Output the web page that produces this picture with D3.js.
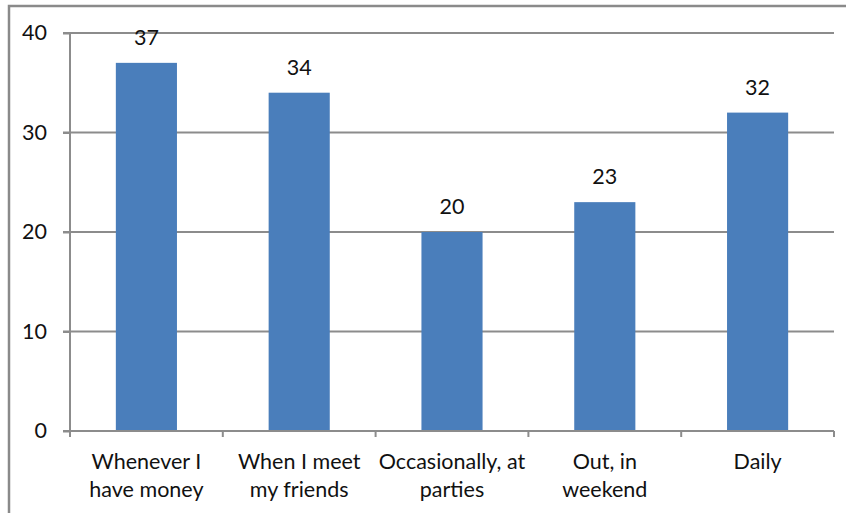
<!DOCTYPE html>
<html><head><meta charset="utf-8">
<script src="https://cdn.jsdelivr.net/npm/d3@7"></script>
<style>html,body{margin:0;padding:0;background:#fff}svg{display:block}</style>
</head><body>
<script>
const categories = ["Whenever I have money","When I meet my friends","Occasionally, at parties","Out, in weekend","Daily"];
const categoryLines = [["Whenever I","have money"],["When I meet","my friends"],["Occasionally, at","parties"],["Out, in","weekend"],["Daily"]];
const values = [37,34,20,23,32];
const yTicks = [0,10,20,30,40];

const W=846,H=513;
const m={left:70,right:12,top:33,bottom:82};
const font="Lato, 'Open Sans', sans-serif";
const fs=21.5;
const svg=d3.select("body").append("svg").attr("width",W).attr("height",H);
// outer frame
svg.append("path").attr("d",`M9,${H+5}V6H${W+5}`).attr("fill","none").attr("stroke","#8a8a8a").attr("stroke-width",2.5);

const x=d3.scaleBand().domain(categories).range([m.left,W-m.right]).paddingInner(0.6).paddingOuter(0.3);
const y=d3.scaleLinear().domain([0,40]).range([H-m.bottom,m.top]);
const g=svg.append("g");
// gridlines
g.selectAll("line.grid").data(yTicks.filter(d=>d>0)).join("line")
 .attr("x1",m.left-7).attr("x2",W-m.right).attr("y1",d=>y(d)).attr("y2",d=>y(d))
 .attr("stroke","#8c8c8c").attr("stroke-width",2);
// y axis
const ya=g.append("g").attr("transform",`translate(${m.left},0)`).call(d3.axisLeft(y).tickValues(yTicks).tickSize(7).tickPadding(16));
ya.select(".domain").attr("stroke","#8c8c8c").attr("stroke-width",2).attr("d",`M0,${y(40)}V${y(0)+6}`);
ya.selectAll(".tick line").attr("stroke","#8c8c8c").attr("stroke-width",2);
ya.selectAll("text").attr("font-family",font).attr("font-size",fs).attr("fill","#111");
// bars
g.selectAll("rect.bar").data(values).join("rect")
 .attr("x",(d,i)=>x(categories[i])).attr("width",x.bandwidth())
 .attr("y",d=>y(d)).attr("height",d=>y(0)-y(d)).attr("fill","#4a7ebb");
// x axis line and ticks
g.append("line").attr("x1",m.left-7).attr("x2",W-m.right).attr("y1",y(0)).attr("y2",y(0)).attr("stroke","#8c8c8c").attr("stroke-width",2);
const bounds=d3.range(categories.length+1).map(i=>m.left+i*(W-m.right-m.left)/categories.length);
g.selectAll("line.xt").data(bounds).join("line").attr("x1",d=>d).attr("x2",d=>d).attr("y1",y(0)).attr("y2",y(0)+6).attr("stroke","#8c8c8c").attr("stroke-width",2);
// value labels
g.selectAll("text.val").data(values).join("text")
 .attr("x",(d,i)=>x(categories[i])+x.bandwidth()/2).attr("y",d=>y(d)-18)
 .attr("text-anchor","middle").attr("font-family",font).attr("font-size",fs).attr("fill","#111").text(d=>d);
// category labels
const cl=g.selectAll("text.cat").data(categoryLines).join("text")
 .attr("text-anchor","middle").attr("font-family",font).attr("font-size",fs).attr("fill","#111")
 .attr("transform",(d,i)=>`translate(${x(categories[i])+x.bandwidth()/2},${y(0)+38})`);
cl.selectAll("tspan").data(d=>d).join("tspan").attr("x",0).attr("dy",(d,i)=>i?28:0).text(d=>d);
</script>
</body></html>
